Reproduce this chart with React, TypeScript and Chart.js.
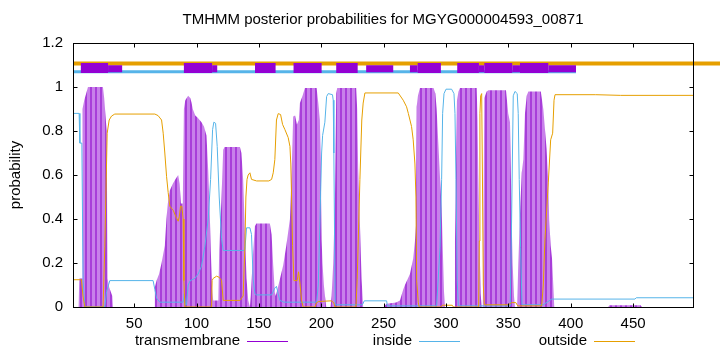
import { useEffect, useRef } from "react";
import { Chart, registerables } from "chart.js";

Chart.register(...registerables);

const titleText = "TMHMM posterior probabilities for MGYG000004593_00871";
const yTitle = "probability";
const legendLabels = ["transmembrane", "inside", "outside"];
const xTicks = [50, 100, 150, 200, 250, 300, 350, 400, 450];
const yTicks = [0, 0.2, 0.4, 0.6, 0.8, 1, 1.2];
const xRange: [number, number] = [1, 498];
const yRange: [number, number] = [0, 1.2];

// posterior probability of transmembrane (residue, probability)
const transmembrane: [number, number][] = [
  [1, 0], [5.5, 0], [6, 0.13], [8.3, 0.13], [8.6, 0.9], [10, 0.94], [12, 0.98], [13, 1], [25, 1],
  [26, 0.95], [28, 0.8], [28.7, 0.13], [30, 0.09], [32.5, 0.05], [33, 0],
  [66, 0], [66.6, 0.09], [68, 0.12], [70, 0.15], [72, 0.2], [74.6, 0.28], [75.9, 0.4], [77, 0.47],
  [78.6, 0.53], [81, 0.56], [83, 0.58], [85.3, 0.6], [86.5, 0.56], [87.5, 0.47], [89, 0.47],
  [89.9, 0.9], [91, 0.94], [93.3, 0.96], [95, 0.95], [96, 0.93], [97, 0.9], [99, 0.87], [101, 0.86],
  [104, 0.84], [106, 0.82], [108, 0.78], [109.4, 0.62], [110.5, 0.45], [111.5, 0.25], [112.5, 0.08],
  [113.4, 0.03], [117.5, 0.03], [118.2, 0.26], [120, 0.49], [121.4, 0.715], [122.5, 0.727],
  [134.8, 0.727], [136, 0.7], [137.4, 0.58], [138.8, 0.34], [140.1, 0.13], [141.5, 0.03], [142.8, 0],
  [143.5, 0.05], [145.4, 0.25], [146.8, 0.367], [148, 0.379], [158.8, 0.379], [160.2, 0.33],
  [161.5, 0.19], [162.8, 0.066], [163.5, 0.05], [165.5, 0.094], [169.5, 0.19], [172, 0.28],
  [174.9, 0.4], [176.2, 0.6], [177.5, 0.866], [179, 0.87], [180.5, 0.83], [182, 0.85],
  [182.9, 0.927], [185, 0.96], [186.9, 0.995], [196.3, 0.995], [197.6, 0.93], [198.9, 0.85],
  [199.5, 0.655], [200.3, 0.306], [201, 0.2], [202.1, 0.1], [203, 0.05], [204, 0],
  [207.5, 0], [208.3, 0.05], [209.6, 0.2], [211, 0.5], [212, 0.97], [212.8, 0.995], [228, 0.995],
  [228.8, 0.9], [229.6, 0.63], [231, 0.38], [232.3, 0.13], [233.6, 0],
  [250, 0], [252.4, 0.015], [260, 0.02], [263.1, 0.03], [265.7, 0.08], [267.1, 0.1], [271.1, 0.15],
  [273.7, 0.22], [275.1, 0.3], [275.9, 0.37], [276.5, 0.91], [277.5, 0.96], [279.1, 0.995],
  [290, 0.995], [291.5, 0.97], [292.5, 0.9], [293.8, 0.75], [295.2, 0.59], [296.5, 0.45],
  [297.5, 0.25], [298.4, 0.07], [299.2, 0],
  [306.5, 0], [307.2, 0.3], [308, 0.6], [308.8, 0.94], [310, 0.98], [311.2, 0.995], [324.6, 0.995],
  [325.3, 0.85], [325.9, 0.6], [326.7, 0.33], [327.8, 0.06], [328.6, 0],
  [329.5, 0], [329.9, 0.28], [330.7, 0.95], [332.6, 0.98], [334, 0.985], [348.1, 0.985],
  [349.9, 0.88], [351.3, 0.84], [352.1, 0.58], [352.6, 0.4], [353.4, 0.2], [354.5, 0.05], [355.3, 0],
  [357, 0], [357.9, 0.185], [359.3, 0.42], [360.7, 0.61], [362, 0.67], [363.3, 0.88], [364.7, 0.96],
  [366, 0.98], [376, 0.98], [378, 0.9], [379.3, 0.81], [380.6, 0.72], [381.9, 0.58], [382.7, 0.4],
  [383.9, 0.28], [385, 0.22], [386, 0.1], [386.8, 0],
  [430, 0], [431, 0.008], [456, 0.008], [457, 0], [498, 0],
];

// posterior probability of inside
const inside: [number, number][] = [
  [1, 0.88], [5.9, 0.88], [6.5, 0.745], [8.1, 0.745], [9.1, 0.12], [10.5, 0], [26.5, 0],
  [27.9, 0.07], [30.5, 0.12], [65.2, 0.12], [66.6, 0.08], [68, 0.04], [70.6, 0.022], [89.3, 0.022],
  [90.2, 0.06], [91, 0.01], [92, 0.01], [93.3, 0.1], [95, 0.12], [98.7, 0.13], [101.3, 0.15],
  [104, 0.185], [106.7, 0.276], [109.4, 0.4], [111.3, 0.58], [112.9, 0.806], [113.9, 0.84],
  [115.3, 0.835], [116.6, 0.73], [118.2, 0.5], [120.1, 0.31], [121.4, 0.257], [137.4, 0.257],
  [138.8, 0.26], [140.1, 0.36], [142.8, 0.36], [144.1, 0.33], [145.4, 0.127], [146.8, 0.06],
  [148, 0.055], [160.2, 0.055], [162.8, 0.086], [164.1, 0.094], [165.5, 0.06], [166.8, 0.03],
  [170, 0.022], [196.3, 0.022], [197.6, 0.1], [199, 0.4], [200.3, 0.7], [201.1, 0.78],
  [202.9, 0.84], [204.3, 0.957], [205.6, 0.97], [209, 0.965], [209.6, 0.94], [210.1, 0.7],
  [210.7, 0.3], [211.2, 0.01], [233, 0.01], [234.5, 0.028], [252.4, 0.028], [253, 0.005],
  [292.5, 0.005], [295.2, 0.27], [296.5, 0.58], [297.3, 0.88], [298.4, 0.97], [300, 0.99],
  [304.5, 0.99], [306.4, 0.97], [307.2, 0.88], [308, 0.58], [309, 0.12], [309.9, 0.005],
  [351.5, 0.005], [352.6, 0.4], [353.9, 0.96], [355.3, 0.98], [357.1, 0.97], [357.9, 0.88],
  [358.7, 0.58], [359.8, 0.27], [360.9, 0.01], [378, 0.01], [384.7, 0.036], [451.5, 0.036],
  [452.5, 0.042], [498, 0.042],
];

// posterior probability of outside
const outside: [number, number][] = [
  [1, 0.124], [7.8, 0.124], [9, 0.05], [10.5, 0], [25.1, 0], [26.5, 0.276], [28.4, 0.79], [30, 0.85],
  [31.9, 0.868], [34.5, 0.877], [66.6, 0.877], [69.2, 0.87], [72, 0.85], [73.3, 0.79], [74.6, 0.7],
  [76, 0.594], [77.3, 0.52], [78.6, 0.458], [81.3, 0.44], [83.5, 0.41], [85.3, 0.39], [86.2, 0.41],
  [87.2, 0.458], [88.3, 0.458], [89.3, 0.4], [89.9, 0.12], [90.7, 0], [112.1, 0], [112.5, 0.12],
  [113.4, 0.13], [116.1, 0.14], [118.2, 0.135], [120.1, 0.12], [121.4, 0.03], [134.8, 0.03],
  [137.4, 0.05], [138.8, 0.276], [139.6, 0.5], [140.5, 0.58], [141.4, 0.6], [142.8, 0.61],
  [144.1, 0.58], [148.2, 0.573], [158, 0.573], [160.2, 0.58], [161.5, 0.61], [162.8, 0.67],
  [164.1, 0.85], [165.5, 0.879], [167.4, 0.875], [169, 0.83], [170.9, 0.806], [173.5, 0.77],
  [174.9, 0.73], [175.6, 0.65], [176.2, 0.5], [177, 0.28], [178.1, 0.12], [180.7, 0.12],
  [181.8, 0.16], [182.9, 0.11], [184.2, 0.03], [185.5, 0], [195, 0], [196.3, 0.02], [198, 0.025],
  [208, 0.028], [210, 0.02], [211, 0], [227.8, 0], [228.8, 0.124], [231, 0.58], [232.5, 0.85],
  [233.6, 0.927], [235, 0.973], [261.7, 0.973], [265.7, 0.94], [268.4, 0.91], [269.8, 0.88],
  [271.1, 0.85], [272.4, 0.82], [273.7, 0.76], [275.1, 0.65], [275.9, 0.5], [276.5, 0.12],
  [277.8, 0.02], [278.5, 0], [296, 0], [297, 0.008], [305, 0.008], [306, 0], [326.2, 0],
  [326.7, 0.3], [327.2, 0.88], [327.8, 0.96], [328.6, 0.97], [329.2, 0.6], [329.9, 0.1],
  [330.7, 0.01], [350, 0.01], [352.5, 0.02], [356, 0.02], [357.5, 0.005], [376.7, 0.005],
  [378, 0.1], [379.3, 0.306], [382, 0.564], [383.9, 0.76], [385.5, 0.79], [386.6, 0.94],
  [387.4, 0.965], [420, 0.965], [440, 0.962], [498, 0.962],
];

// predicted topology bars above the curves
const tmSegments: [number, number][] = [
  [7.3, 29.1], [89.9, 112.5], [146.9, 163.4], [177.8, 200.3], [212, 229.2],
  [277.3, 295.9], [309, 326.4], [330.7, 353.1], [359.3, 382],
];
const tmPartialSegments: [number, number][] = [
  [29.1, 40.4], [112.5, 116.6], [236, 257.7], [271.1, 277.3], [326.4, 330.7], [353.1, 359.3], [382, 404.2],
];
const insideSegment: [number, number] = [1, 404.2];
const outsideSegment: [number, number] = [1, 520];
const levelOutside = 1.107;
const levelInside = 1.0695;
const levelTM = 1.086;
const levelTMPartial = 1.083;

const PURPLE = "#9400d3";
const BLUE = "#56b4e9";
const ORANGE = "#e69f00";
const FONT = "Liberation Sans";
const FS = 15;

const toPts = (arr: [number, number][]) => arr.map(([x, y]) => ({ x, y }));
const segPts = (segs: [number, number][], level: number) => {
  const out: { x: number; y: number | null }[] = [];
  segs.forEach(([a, b]) => {
    out.push({ x: a, y: level }, { x: b, y: level }, { x: b + 0.0001, y: null });
  });
  return out;
};

export default function App() {
  const ref = useRef<HTMLCanvasElement | null>(null);

  useEffect(() => {
    const canvas = ref.current;
    if (!canvas) return;

    const pc = document.createElement("canvas");
    pc.width = 5;
    pc.height = 4;
    const pctx = pc.getContext("2d")!;
    pctx.fillStyle = "#c880ea";
    pctx.fillRect(0, 0, 5, 4);
    pctx.fillStyle = "#a83ed9";
    pctx.fillRect(0, 0, 2, 4);
    const pattern = canvas.getContext("2d")!.createPattern(pc, "repeat")!;

    const decor = {
      id: "decor",
      afterDraw(chart: any) {
        const { ctx, chartArea } = chart;
        const { left, right, top, bottom } = chartArea;
        const xs = chart.scales.x;
        const ys = chart.scales.y;
        ctx.save();
        ctx.strokeStyle = "#000";
        ctx.lineWidth = 1;
        const L = Math.round(left) + 0.5;
        const R = Math.round(right) + 0.5;
        const T = Math.round(top) + 0.5;
        const B = Math.round(bottom) + 0.5;
        ctx.beginPath();
        xTicks.forEach((v) => {
          const px = Math.round(xs.getPixelForValue(v)) + 0.5;
          ctx.moveTo(px, B);
          ctx.lineTo(px, B - 4);
          ctx.moveTo(px, T);
          ctx.lineTo(px, T + 4);
        });
        yTicks.forEach((v) => {
          const py = Math.round(ys.getPixelForValue(v)) + 0.5;
          ctx.moveTo(L, py);
          ctx.lineTo(L + 4, py);
          ctx.moveTo(R, py);
          ctx.lineTo(R - 4, py);
        });
        ctx.stroke();
        ctx.strokeRect(L, T, R - L, B - T);

        ctx.fillStyle = "#000";
        ctx.font = `${FS}px "${FONT}"`;
        ctx.textAlign = "center";
        ctx.textBaseline = "middle";
        ctx.fillText(titleText, (left + right) / 2, 20);

        ctx.save();
        ctx.translate(16, (top + bottom) / 2);
        ctx.rotate(-Math.PI / 2);
        ctx.fillText(yTitle, 0, 0);
        ctx.restore();

        const legendColors = [PURPLE, BLUE, ORANGE];
        const legendEnds = [240, 412, 587];
        const ly = 341;
        ctx.textAlign = "right";
        legendLabels.forEach((lab, i) => {
          ctx.fillStyle = "#000";
          ctx.fillText(lab, legendEnds[i], ly);
          ctx.strokeStyle = legendColors[i];
          ctx.beginPath();
          ctx.moveTo(legendEnds[i] + 7, ly + 0.5);
          ctx.lineTo(legendEnds[i] + 48, ly + 0.5);
          ctx.stroke();
        });
        ctx.restore();
      },
    };

    const chart = new Chart(canvas, {
      type: "line",
      data: {
        datasets: [
          { data: segPts(tmSegments, levelTM), borderColor: PURPLE, borderWidth: 10, pointRadius: 0, spanGaps: false, fill: false } as any,
          { data: segPts(tmPartialSegments, levelTMPartial), borderColor: PURPLE, borderWidth: 7, pointRadius: 0, spanGaps: false, fill: false } as any,
          { data: segPts([insideSegment], levelInside), borderColor: BLUE, borderWidth: 3, pointRadius: 0, spanGaps: false, fill: false } as any,
          { data: segPts([outsideSegment], levelOutside), borderColor: ORANGE, borderWidth: 4, pointRadius: 0, spanGaps: false, fill: false, clip: false } as any,
          { label: "outside", data: toPts(outside), borderColor: ORANGE, borderWidth: 1, pointRadius: 0, fill: false },
          { label: "inside", data: toPts(inside), borderColor: BLUE, borderWidth: 1, pointRadius: 0, fill: false },
          { label: "transmembrane", data: toPts(transmembrane), borderColor: "rgba(0,0,0,0)", borderWidth: 0, backgroundColor: pattern, pointRadius: 0, fill: "origin" },
        ],
      },
      options: {
        animation: false,
        responsive: false,
        events: [],
        layout: { padding: { left: 0, right: 27, top: 43, bottom: 0 } },
        plugins: { legend: { display: false }, title: { display: false }, tooltip: { enabled: false } },
        elements: { line: { tension: 0 } },
        scales: {
          x: {
            type: "linear",
            min: xRange[0],
            max: xRange[1],
            grid: { display: false, drawTicks: false },
            border: { display: false },
            ticks: { color: "#000", font: { family: FONT, size: FS }, padding: 8, maxRotation: 0, autoSkip: false },
            afterBuildTicks: (axis: any) => {
              axis.ticks = xTicks.map((v) => ({ value: v }));
            },
            afterFit: (axis: any) => {
              axis.height = 45;
            },
          },
          y: {
            type: "linear",
            min: yRange[0],
            max: yRange[1],
            grid: { display: false, drawTicks: false },
            border: { display: false },
            ticks: { color: "#000", font: { family: FONT, size: FS }, padding: 10, callback: (v: any) => String(Math.round(v * 10) / 10) },
            afterBuildTicks: (axis: any) => {
              axis.ticks = yTicks.map((v) => ({ value: v }));
            },
            afterFit: (axis: any) => {
              axis.width = 73;
            },
          },
        },
      },
      plugins: [decor],
    });

    return () => chart.destroy();
  }, []);

  return (
    <div style={{ position: "absolute", left: 0, top: 0, width: 720, height: 352, background: "#fff" }}>
      <canvas ref={ref} width={720} height={352} style={{ display: "block" }} />
    </div>
  );
}
